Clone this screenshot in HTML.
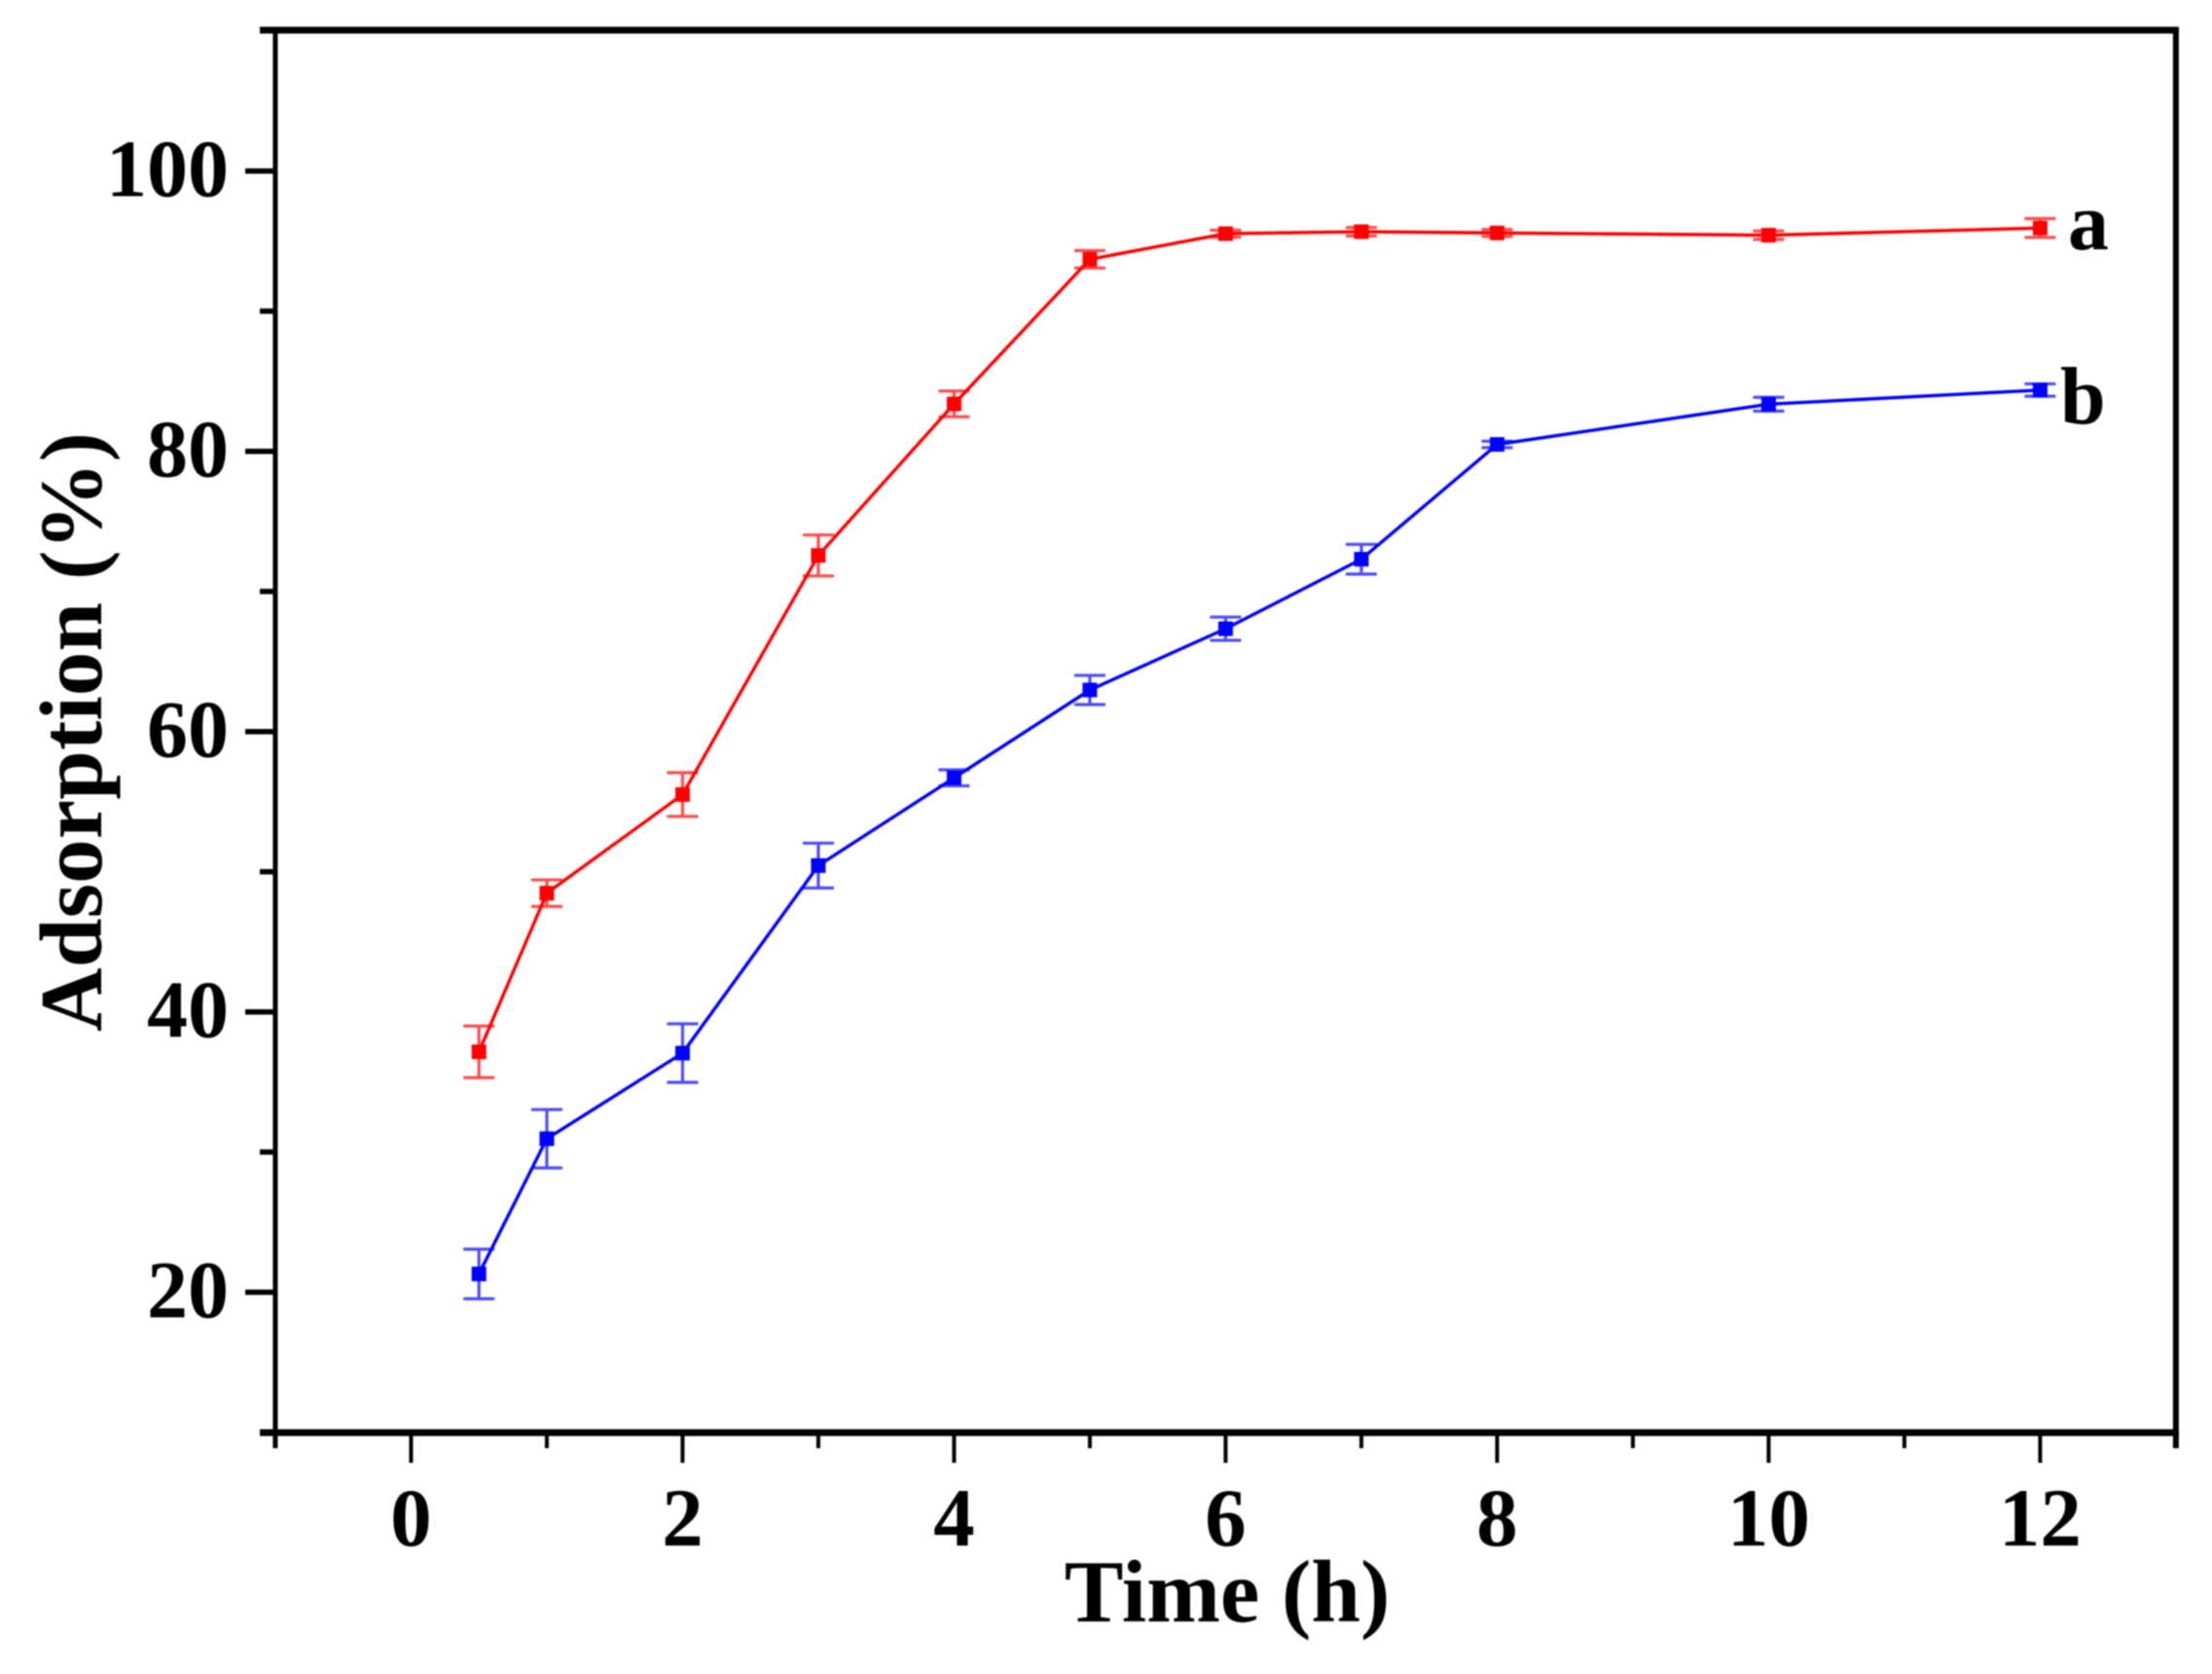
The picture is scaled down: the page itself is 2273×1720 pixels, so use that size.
<!DOCTYPE html>
<html lang="en">
<head>
<meta charset="utf-8">
<title>Adsorption vs Time</title>
<style>
html,body{margin:0;padding:0;background:#fff;}
svg{display:block;filter:blur(0.7px);}
text{font-family:"Liberation Serif","Times New Roman",serif;font-weight:bold;fill:#000;}
</style>
</head>
<body>
<svg id="chart" xmlns="http://www.w3.org/2000/svg" width="2273" height="1720" viewBox="0 0 2273 1720">
  <rect x="0" y="0" width="2273" height="1720" fill="#fff"/>
  <g id="marks"></g>
  <g id="frame"></g>
  <text x="1267" y="1666" font-size="91" text-anchor="middle" dx="-6">Time (h)</text>
  <text transform="translate(104,1060) rotate(-90)" font-size="91" textLength="616" lengthAdjust="spacing">Adsorption (%)</text>
  <text x="2125" y="256" font-size="84">a</text>
  <text x="2117" y="435" font-size="84">b</text>
</svg>
<script>
const times = [0.5, 1, 2, 3, 4, 5, 6, 7, 8, 10, 12];
const seriesA = [37.15, 48.47, 55.51, 72.57, 83.38, 93.7, 95.53, 95.67, 95.58, 95.42, 95.93];
const errorA = [1.84, 0.95, 1.56, 1.46, 0.92, 0.62, 0.25, 0.3, 0.25, 0.3, 0.67];
const seriesB = [21.3, 30.95, 37.06, 50.44, 56.7, 62.97, 67.34, 72.3, 80.49, 83.36, 84.37];
const errorB = [1.77, 2.08, 2.09, 1.6, 0.57, 1.04, 0.83, 1.06, 0.23, 0.49, 0.44];
const xTickLabels = [0, 2, 4, 6, 8, 10, 12];
const xMinorTicks = [-1, 1, 3, 5, 7, 9, 11, 13];
const yTickLabels = [20, 40, 60, 80, 100];
const yMinorTicks = [10, 30, 50, 70, 90, 110];

const NS = 'http://www.w3.org/2000/svg';
function sx(v){ return 422.4 + (v - 0) * 139.5; }
function sy(v){ return 175.7 + (100 - v) * 14.4; }

function mk(parent, tag, attrs, text){
  const el = document.createElementNS(NS, tag);
  for (const k in attrs) el.setAttribute(k, attrs[k]);
  if (text !== undefined) el.textContent = text;
  parent.appendChild(el);
  return el;
}

const frame = document.getElementById('frame');
const marks = document.getElementById('marks');
const BLK = '#000';

/* frame lines */
let axisEl;
axisEl = mk(frame, 'line', {x1: 267, x2: 2239, y1: 31, y2: 31, stroke: BLK, 'stroke-width': 7});


axisEl = mk(frame, 'line', {x1: 267, x2: 2239, y1: 1472, y2: 1472, stroke: BLK, 'stroke-width': 7});


axisEl = mk(frame, 'line', {x1: sx(-1), x2: sx(-1), y1: 28, y2: 1488, stroke: BLK, 'stroke-width': 5});


axisEl = mk(frame, 'line', {x1: sx(13), x2: sx(13), y1: 28, y2: 1488, stroke: BLK, 'stroke-width': 6});



/* x ticks */
xTickLabels.forEach(function(v){
  const t = mk(frame, 'line', {x1: sx(v), x2: sx(v), y1: 1472, y2: 1503, stroke: BLK, 'stroke-width': 4});
  
  
  const l = mk(frame, 'text', {x: sx(v), y: 1588, 'font-size': 85, 'text-anchor': 'middle'}, String(v));
  
  
});
xMinorTicks.forEach(function(v){
  const t = mk(frame, 'line', {x1: sx(v), x2: sx(v), y1: 1472, y2: 1488, stroke: BLK, 'stroke-width': 4});
  
  
});

/* y ticks */
yTickLabels.forEach(function(v){
  const t = mk(frame, 'line', {x1: 252, x2: sx(-1), y1: sy(v), y2: sy(v), stroke: BLK, 'stroke-width': 5.5});
  
  
  const l = mk(frame, 'text', {x: 235, y: sy(v) + 26, 'font-size': 84, 'text-anchor': 'end'}, String(v));
  
  
});
yMinorTicks.forEach(function(v){
  const t = mk(frame, 'line', {x1: 267, x2: sx(-1), y1: sy(v), y2: sy(v), stroke: BLK, 'stroke-width': 5.5});
  
  
});

/* series */
function drawSeries(values, errors, color, name){
  const line = mk(marks, 'polyline', {
    points: values.map(function(v, i){ return sx(times[i]) + ',' + sy(v); }).join(' '),
    fill: 'none', stroke: color, 'stroke-width': 3.4, 'stroke-linejoin': 'miter'
  });
  
  
  values.forEach(function(v, i){
    const x = sx(times[i]);
    const hi = sy(v + errors[i]);
    const lo = sy(v - errors[i]);
    const bar = mk(marks, 'path', {
      d: 'M' + x + ' ' + hi + 'V' + lo + 'M' + (x - 16) + ' ' + hi + 'H' + (x + 16) + 'M' + (x - 16) + ' ' + lo + 'H' + (x + 16),
      fill: 'none', stroke: color, 'stroke-width': 3.2, 'stroke-opacity': 0.7
    });
    
    
    const pt = mk(marks, 'rect', {x: x - 7.5, y: sy(v) - 7.5, width: 15, height: 15, fill: color});
    
    
  });
}
drawSeries(seriesA, errorA, '#ff0000', 'series-a');
drawSeries(seriesB, errorB, '#0000ff', 'series-b');
</script>
</body>
</html>
